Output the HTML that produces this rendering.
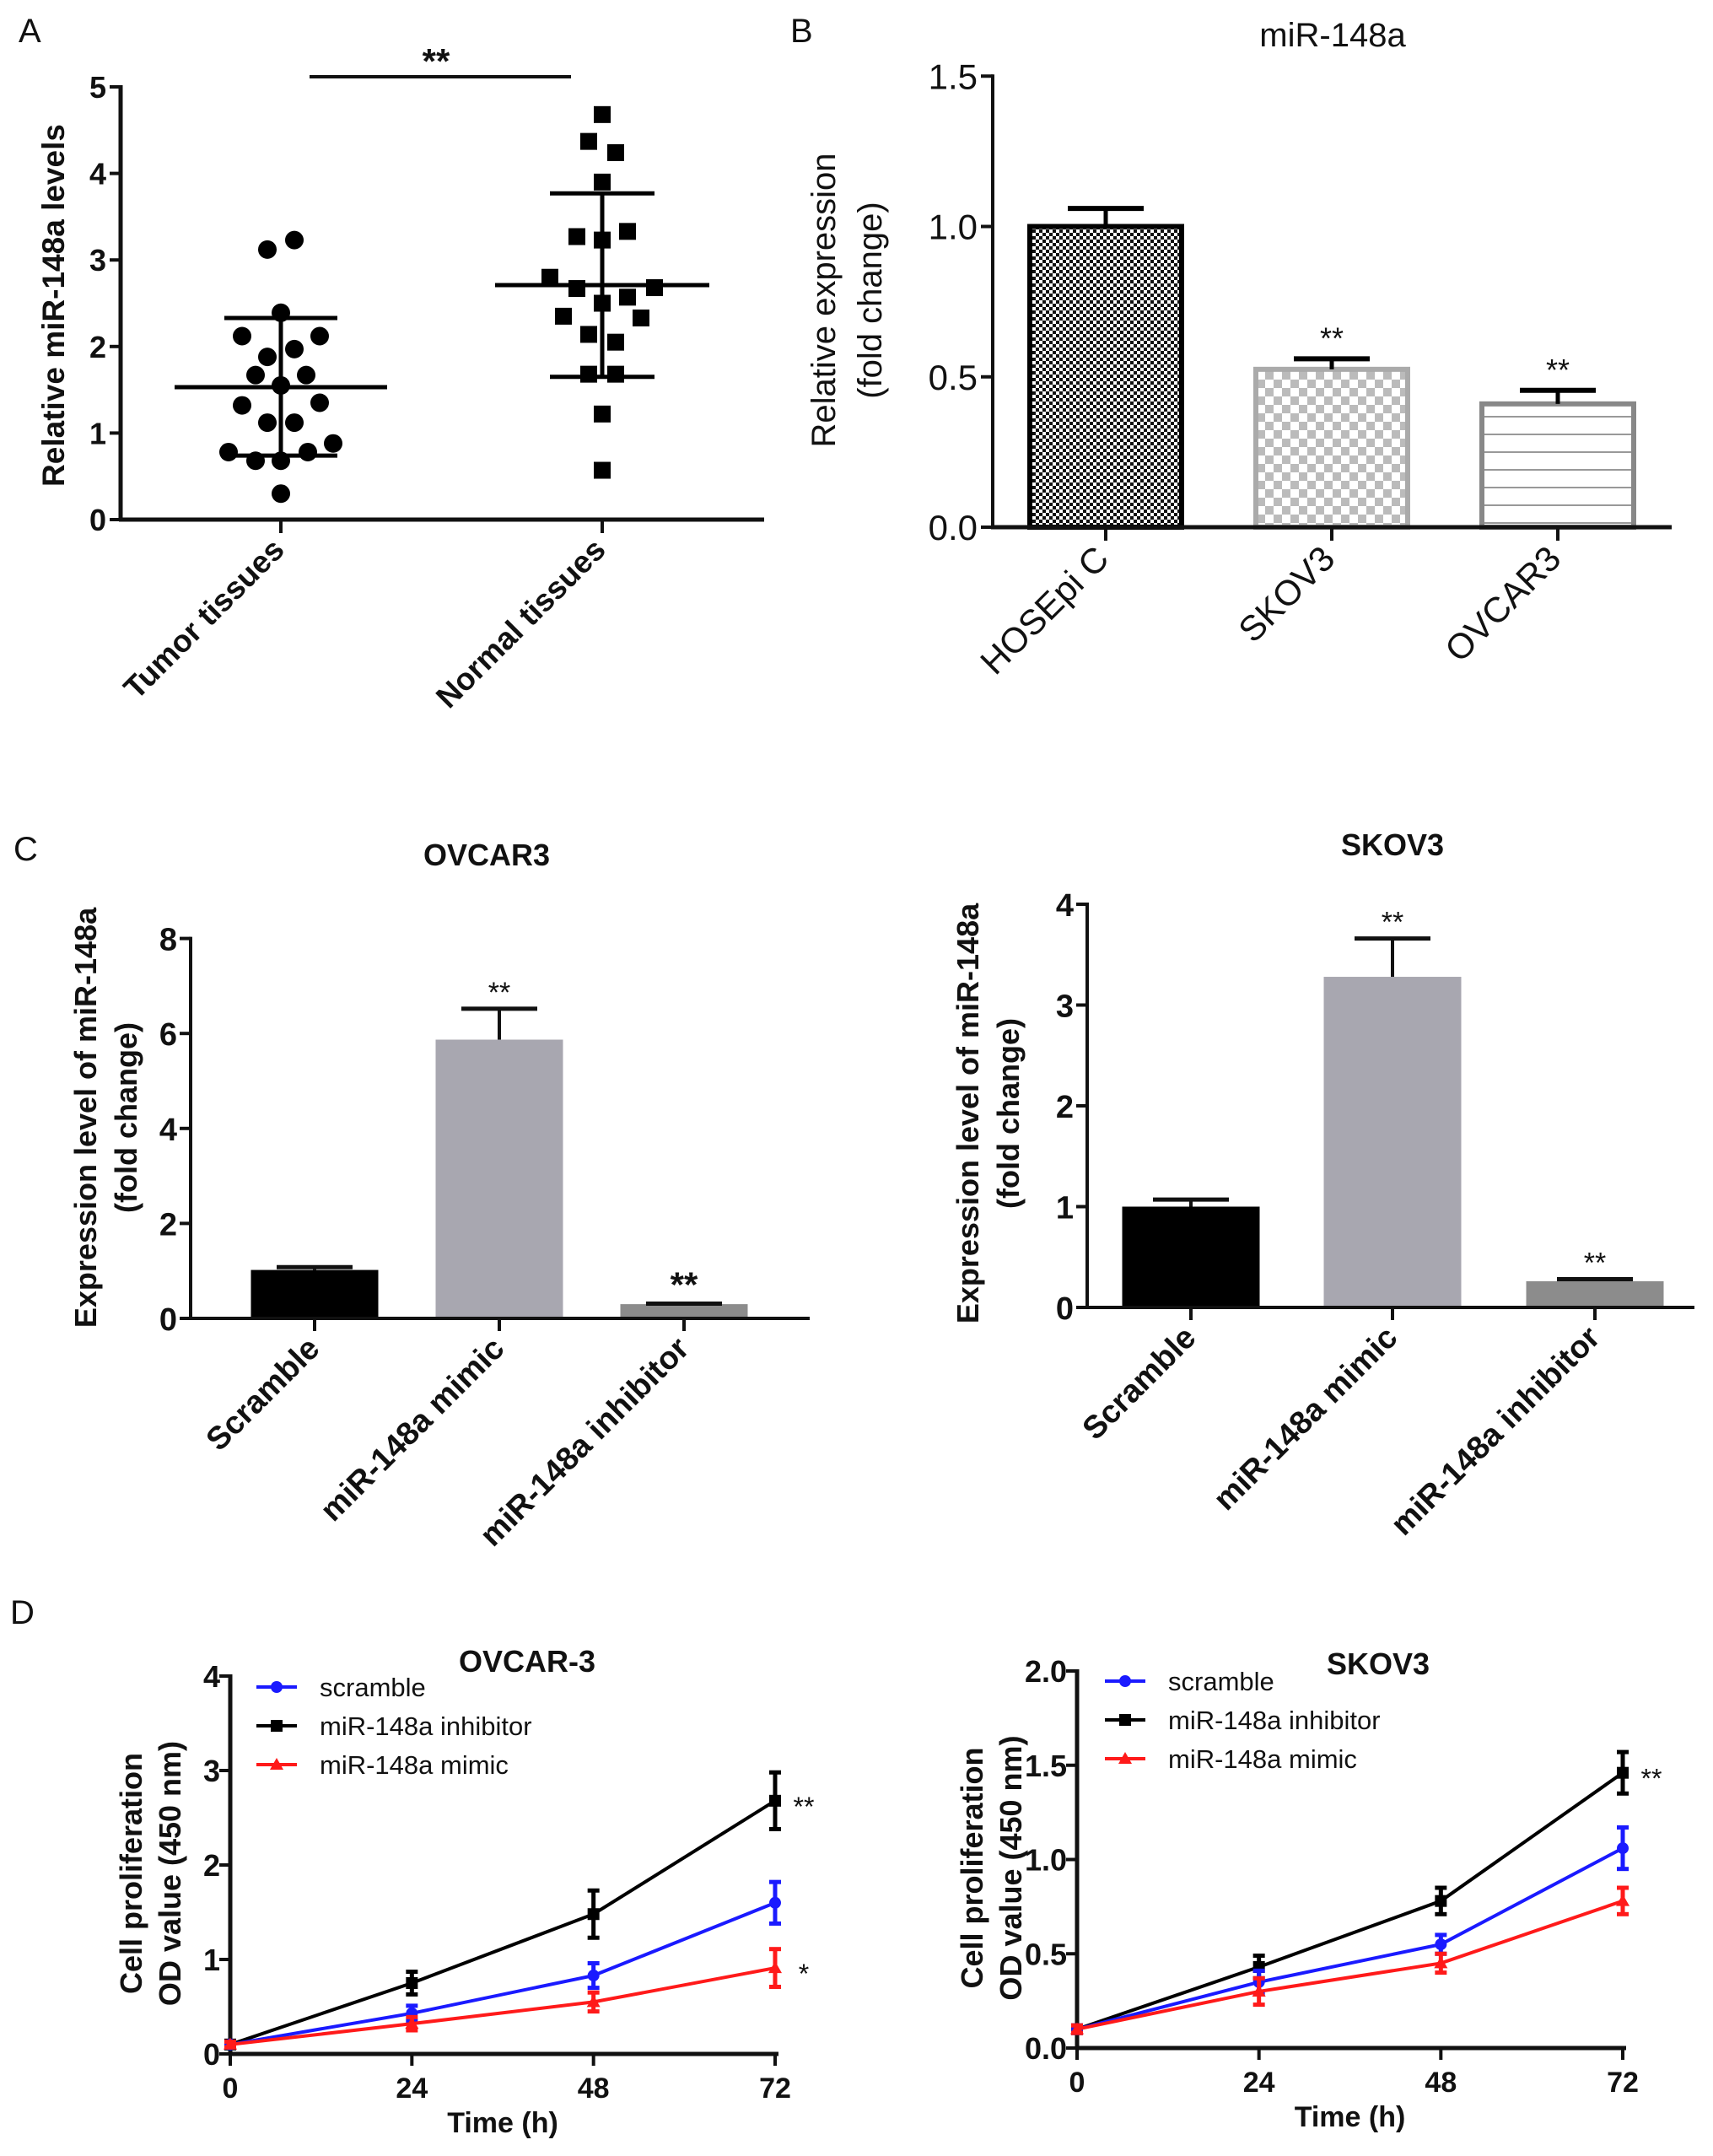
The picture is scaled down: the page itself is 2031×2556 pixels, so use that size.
<!DOCTYPE html>
<html><head><meta charset="utf-8"><style>
html,body{margin:0;padding:0;background:#fff;}
svg{display:block;font-family:"Liberation Sans",Arial,sans-serif;}
</style></head><body>
<svg id="fig" width="2031" height="2556" viewBox="0 0 2031 2556" xmlns="http://www.w3.org/2000/svg">
<defs>
<pattern id="pDense" width="8" height="8" patternUnits="userSpaceOnUse"><rect width="8" height="8" fill="#fff"/><rect width="4" height="4" fill="#111"/><rect x="4" y="4" width="4" height="4" fill="#111"/></pattern>
<pattern id="pLight" width="20" height="20" patternUnits="userSpaceOnUse"><rect width="20" height="20" fill="#fff"/><rect width="10" height="10" fill="#bbb"/><rect x="10" y="10" width="10" height="10" fill="#bbb"/></pattern>
<pattern id="pLines" width="10" height="21" patternUnits="userSpaceOnUse"><rect width="10" height="21" fill="#fff"/><rect y="10" width="10" height="2" fill="#999"/></pattern>
</defs>
<g id="root"></g>
</svg>
<script>
// Panel A data
const aGroups = ["Tumor tissues", "Normal tissues"];
const aTumor = [3.12, 3.23, 2.39, 2.12, 2.12, 1.97, 1.88, 1.67, 1.67, 1.55, 1.32, 1.35, 1.12, 1.12, 0.78, 0.88, 0.78, 0.68, 0.68, 0.3];
const aNormal = [4.68, 4.37, 4.24, 3.9, 3.27, 3.23, 3.33, 2.8, 2.67, 2.68, 2.5, 2.57, 2.35, 2.33, 2.14, 2.05, 1.68, 1.68, 1.22, 0.57];
const aMeans = [1.53, 2.71];
const aSdHi = [2.33, 3.77];
const aSdLo = [0.74, 1.65];
const aTicks = [0, 1, 2, 3, 4, 5];
// Panel B data
const bCats = ["HOSEpi C", "SKOV3", "OVCAR3"];
const bVals = [1.0, 0.525, 0.41];
const bErr = [1.06, 0.56, 0.455];
const bTicks = ["0.0", "0.5", "1.0", "1.5"];
// Panel C data
const cCats = ["Scramble", "miR-148a mimic", "miR-148a inhibitor"];
const cOvVals = [1.02, 5.87, 0.3];
const cOvErr = [1.08, 6.52, 0.31];
const cOvTicks = [0, 2, 4, 6, 8];
const cSkVals = [1.0, 3.28, 0.26];
const cSkErr = [1.07, 3.66, 0.28];
const cSkTicks = [0, 1, 2, 3, 4];
// Panel D data
const dTimes = [0, 24, 48, 72];
const dOvScr = [0.1, 0.43, 0.83, 1.6];
const dOvScrE = [0.03, 0.08, 0.13, 0.22];
const dOvInh = [0.1, 0.75, 1.48, 2.68];
const dOvInhE = [0.03, 0.12, 0.25, 0.3];
const dOvMim = [0.1, 0.32, 0.55, 0.91];
const dOvMimE = [0.03, 0.07, 0.1, 0.2];
const dOvTicks = ["0", "1", "2", "3", "4"];
const dSkScr = [0.1, 0.35, 0.55, 1.06];
const dSkScrE = [0.02, 0.06, 0.05, 0.11];
const dSkInh = [0.1, 0.43, 0.78, 1.46];
const dSkInhE = [0.02, 0.06, 0.07, 0.11];
const dSkMim = [0.1, 0.3, 0.45, 0.78];
const dSkMimE = [0.02, 0.07, 0.05, 0.07];
const dSkTicks = ["0.0", "0.5", "1.0", "1.5", "2.0"];

const NS = "http://www.w3.org/2000/svg";
const root = document.getElementById("root");
function el(tag, attrs, parent, text) {
  const e = document.createElementNS(NS, tag);
  for (const k in attrs) e.setAttribute(k, attrs[k]);
  if (text !== undefined) e.textContent = text;
  (parent || root).appendChild(e);
  return e;
}
function grp(name, parent) {
  const g = el("g", {}, parent);
  
  
  return g;
}
function label(txt, x, y, size, weight, parent, anchor, rot, name) {
  const t = el("text", {x: x, y: y, "font-size": size, "font-weight": weight || "normal", "text-anchor": anchor || "middle", fill: "#111"}, parent, txt);
  if (rot) t.setAttribute("transform", "rotate(" + rot + " " + x + " " + y + ")");
  
  
  return t;
}
function line(x1, y1, x2, y2, w, c, parent) {
  return el("line", {x1: x1, y1: y1, x2: x2, y2: y2, stroke: c || "#111", "stroke-width": w || 4}, parent);
}

// Panel letters
label("A", 22, 50, 40, "normal", root, "start", 0, "panel-label-a");
label("B", 937, 50, 40, "normal", root, "start", 0, "panel-label-b");
label("C", 16, 1020, 40, "normal", root, "start", 0, "panel-label-c");
label("D", 12, 1925, 40, "normal", root, "start", 0, "panel-label-d");

// ---- Panel A ----
(function () {
  const g = grp("panel-a-scatter");
  const x0 = 143, y0 = 616, pu = 102.6, xEnd = 906;
  const ys = v => y0 - v * pu;
  const xs = [333, 714];
  line(x0, y0 + 2, x0, ys(5) - 2, 5, "#111", g);
  line(x0 - 2, y0, xEnd, y0, 5, "#111", g);
  aTicks.forEach(t => {
    line(x0 - 13, ys(t), x0, ys(t), 4, "#111", g);
    label(String(t), x0 - 17, ys(t) + 13, 36, "bold", g, "end", 0, "y-tick-label");
  });
  xs.forEach((x, i) => {
    line(x, y0, x, y0 + 16, 4, "#111", g);
    label(aGroups[i], x + 6, y0 + 38, 37, "bold", g, "end", -45, "x-tick-label");
  });
  label("Relative miR-148a levels", 76, 362, 37, "bold", g, "middle", -90, "y-axis-title");
  // jitter offsets (horizontal spread only)
  const jT = [-16, 16, 0, -46, 46, 16, -16, -30, 30, 0, -46, 46, -16, 16, -62, 62, 32, -30, 0, 0];
  const jN = [0, -16, 16, 0, -30, 0, 30, -62, -30, 62, 0, 30, -46, 46, -16, 16, -16, 16, 0, 0];
  aTumor.forEach((v, i) => {
    const c = el("circle", {cx: xs[0] + jT[i], cy: ys(v), r: 11, fill: "#000"}, g);
    
    
  });
  aNormal.forEach((v, i) => {
    const r = el("rect", {x: xs[1] + jN[i] - 10, y: ys(v) - 10, width: 20, height: 20, fill: "#000"}, g);
    
    
  });
  const meanW = [126, 127], sdW = [67, 62];
  xs.forEach((x, i) => {
    line(x - meanW[i], ys(aMeans[i]), x + meanW[i], ys(aMeans[i]), 5, "#000", g);
    line(x, ys(aSdLo[i]), x, ys(aSdHi[i]), 5, "#000", g);
    line(x - sdW[i], ys(aSdHi[i]), x + sdW[i], ys(aSdHi[i]), 5, "#000", g);
    line(x - sdW[i], ys(aSdLo[i]), x + sdW[i], ys(aSdLo[i]), 5, "#000", g);
  });
  line(367, 91, 677, 91, 4, "#111", g);
  label("**", 517, 87, 42, "bold", g, "middle", 0, "significance-marker");
})();

// ---- Panel B ----
(function () {
  const g = grp("panel-b-bar-chart");
  const x0 = 1177, y0 = 625, pu = 356.5, xEnd = 1982;
  const ys = v => y0 - v * pu;
  const xc = [1311, 1579, 1847], bw = 180;
  const fills = ["url(#pDense)", "url(#pLight)", "url(#pLines)"];
  const strokes = ["#000", "#aaa", "#888"];
  label("miR-148a", 1580, 55, 40, "normal", g, "middle", 0, "chart-title");
  bVals.forEach((v, i) => {
    const r = el("rect", {x: xc[i] - bw / 2, y: ys(v), width: bw, height: v * pu, fill: fills[i], stroke: strokes[i], "stroke-width": 6}, g);
    
    
    line(xc[i], ys(v), xc[i], ys(bErr[i]), 5, "#000", g);
    line(xc[i] - 45, ys(bErr[i]), xc[i] + 45, ys(bErr[i]), 6, "#000", g);
    if (i > 0) label("**", xc[i], ys(bErr[i]) - 12, 36, "normal", g, "middle", 0, "significance-marker");
    line(xc[i], y0, xc[i], y0 + 16, 4, "#111", g);
    label(bCats[i], xc[i] + 6, y0 + 40, 42, "normal", g, "end", -45, "x-tick-label");
  });
  line(x0, y0 + 2, x0, ys(1.5) - 2, 4, "#111", g);
  line(x0 - 2, y0, xEnd, y0, 5, "#111", g);
  bTicks.forEach(t => {
    line(x0 - 14, ys(+t), x0, ys(+t), 4, "#111", g);
    label(t, x0 - 18, ys(+t) + 15, 42, "normal", g, "end", 0, "y-tick-label");
  });
  const yt = label("", 990, 356, 40, "normal", g, "middle", -90, "y-axis-title");
  el("tspan", {x: 990, dy: 0}, yt, "Relative expression");
  el("tspan", {x: 990, dy: 55}, yt, "(fold change)");
})();

// ---- Panel C bar charts ----
function cChart(name, title, vals, errs, ticks, x0, y0, pu, xEnd, xc, bw, titleX, titleY, ytX, ytY) {
  const g = grp(name);
  const ys = v => y0 - v * pu;
  const fills = ["#000", "#a8a7b0", "#8c8c8c"];
  label(title, titleX, titleY, 36, "bold", g, "middle", 0, "chart-title");
  vals.forEach((v, i) => {
    const r = el("rect", {x: xc[i] - bw / 2, y: ys(v), width: bw, height: v * pu, fill: fills[i]}, g);
    
    
    line(xc[i], ys(v), xc[i], ys(errs[i]), 4, "#111", g);
    line(xc[i] - 45, ys(errs[i]), xc[i] + 45, ys(errs[i]), 5, "#111", g);
    if (i > 0) label("**", xc[i], ys(errs[i]) - 8, i === 2 && name.includes("ovcar") ? 42 : 34, i === 2 && name.includes("ovcar") ? "bold" : "normal", g, "middle", 0, "significance-marker");
    line(xc[i], y0, xc[i], y0 + 15, 4, "#111", g);
    label(cCats[i], xc[i] + 8, y0 + 38, 38, "bold", g, "end", -45, "x-tick-label");
  });
  line(x0, y0 + 2, x0, ys(ticks[ticks.length - 1]) - 2, 4, "#111", g);
  line(x0 - 2, y0, xEnd, y0, 4, "#111", g);
  ticks.forEach(t => {
    line(x0 - 13, ys(t), x0, ys(t), 4, "#111", g);
    label(String(t), x0 - 16, ys(t) + 14, 38, "bold", g, "end", 0, "y-tick-label");
  });
  const yt = label("", ytX, ytY, 36, "bold", g, "middle", -90, "y-axis-title");
  el("tspan", {x: ytX, dy: 0}, yt, "Expression level of miR-148a");
  el("tspan", {x: ytX, dy: 48}, yt, "(fold change)");
}
cChart("panel-c-ovcar3-bar-chart", "OVCAR3", cOvVals, cOvErr, cOvTicks, 226, 1563, 56.3, 960, [373, 592, 811], 151, 577, 1026, 114, 1325);
cChart("panel-c-skov3-bar-chart", "SKOV3", cSkVals, cSkErr, cSkTicks, 1289, 1550, 119.5, 2009, [1412, 1651, 1891], 163, 1651, 1014, 1160, 1320);

// ---- Panel D line charts ----
function dChart(name, title, series, errs, tickLabels, yMax, x0, y0, yTop, xs72, titleX, titleY, legX, legY, ytX, sigs) {
  const g = grp(name);
  const pu = (y0 - yTop) / yMax;
  const ys = v => y0 - v * pu;
  const xs = t => x0 + t / 72 * (xs72 - x0);
  const colors = ["#1a1aff", "#000", "#ff1a1a"];
  const names = ["scramble", "miR-148a inhibitor", "miR-148a mimic"];
  label(title, titleX, titleY, 36, "bold", g, "middle", 0, "chart-title");
  line(x0, y0 + 2, x0, yTop - 2, 5, "#111", g);
  line(x0 - 2, y0, xs(72) + 4, y0, 5, "#111", g);
  tickLabels.forEach(t => {
    line(x0 - 13, ys(+t), x0, ys(+t), 4, "#111", g);
    label(t, x0 - 12, ys(+t) + 13, 36, "bold", g, "end", 0, "y-tick-label");
  });
  dTimes.forEach(t => {
    line(xs(t), y0, xs(t), y0 + 14, 4, "#111", g);
    label(String(t), xs(t), y0 + 52, 34, "bold", g, "middle", 0, "x-tick-label");
  });
  label("Time (h)", (x0 + xs(72)) / 2, y0 + 93, 34, "bold", g, "middle", 0, "x-axis-title");
  const cy = (y0 + yTop) / 2 + 10;
  const yt = label("", ytX, cy, 36, "bold", g, "middle", -90, "y-axis-title");
  el("tspan", {x: ytX, dy: 0}, yt, "Cell proliferation");
  el("tspan", {x: ytX, dy: 46}, yt, "OD value (450 nm)");
  [1, 0, 2].forEach(si => {
    const vals = series[si], e = errs[si], c = colors[si];
    const pl = el("polyline", {points: dTimes.map((t, i) => xs(t) + "," + ys(vals[i])).join(" "), fill: "none", stroke: c, "stroke-width": 4}, g);
    
    
    dTimes.forEach((t, i) => {
      const x = xs(t);
      line(x, ys(vals[i] - e[i]), x, ys(vals[i] + e[i]), 5, c, g);
      line(x - 7, ys(vals[i] - e[i]), x + 7, ys(vals[i] - e[i]), 5, c, g);
      line(x - 7, ys(vals[i] + e[i]), x + 7, ys(vals[i] + e[i]), 5, c, g);
      let m;
      if (si === 0) m = el("circle", {cx: x, cy: ys(vals[i]), r: 7, fill: c}, g);
      else if (si === 1) m = el("rect", {x: x - 7, y: ys(vals[i]) - 7, width: 14, height: 14, fill: c}, g);
      else m = el("polygon", {points: (x) + "," + (ys(vals[i]) - 8) + " " + (x - 8) + "," + (ys(vals[i]) + 6) + " " + (x + 8) + "," + (ys(vals[i]) + 6), fill: c}, g);
      
      
    });
  });
  names.forEach((n, i) => {
    const lg = grp("legend-entry", g);
    const yy = legY + i * 46;
    line(legX, yy, legX + 48, yy, 4, colors[i], lg);
    if (i === 0) el("circle", {cx: legX + 24, cy: yy, r: 7, fill: colors[i]}, lg);
    else if (i === 1) el("rect", {x: legX + 17, y: yy - 7, width: 14, height: 14, fill: colors[i]}, lg);
    else el("polygon", {points: (legX + 24) + "," + (yy - 8) + " " + (legX + 16) + "," + (yy + 6) + " " + (legX + 32) + "," + (yy + 6), fill: colors[i]}, lg);
    label(n, legX + 75, yy + 11, 31, "normal", lg, "start", 0, "legend-label");
  });
  sigs.forEach(s => label(s[0], xs(72) + 34, ys(series[s[1]][3]) + 18, 32, "normal", g, "middle", 0, "significance-marker"));
}
dChart("panel-d-ovcar3-line-chart", "OVCAR-3", [dOvScr, dOvInh, dOvMim], [dOvScrE, dOvInhE, dOvMimE], dOvTicks, 4, 273, 2435, 1987, 919, 625, 1982, 304, 2000, 168, [["**", 1], ["*", 2]]);
dChart("panel-d-skov3-line-chart", "SKOV3", [dSkScr, dSkInh, dSkMim], [dSkScrE, dSkInhE, dSkMimE], dSkTicks, 2, 1277, 2428, 1981, 1924, 1634, 1985, 1310, 1993, 1165, [["**", 1]]);
</script>
</body></html>
